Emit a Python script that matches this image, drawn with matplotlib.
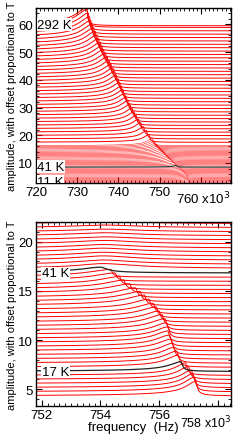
import numpy as np
import matplotlib.pyplot as plt
from matplotlib.ticker import MultipleLocator

plt.rcParams['font.family'] = ['Liberation Sans', 'DejaVu Sans']
plt.rcParams['font.size'] = 9.5

# ---- top panel: 11 K .. 292 K, offset = 0.203*T + 0.18 ----
T_top = [11, 13, 15, 17, 19, 21, 23, 25, 27, 29, 31, 33, 35, 37, 39,
         41,
         43, 45, 47, 49, 51, 53, 55, 57, 59, 61, 63, 65, 67, 69, 71, 73, 75, 77, 79,
         85, 91, 97, 103, 109, 115, 121, 127, 133, 139, 145, 151, 157, 163, 169,
         175, 181, 187, 193, 199, 205, 211, 217, 223, 229, 235, 241, 247, 253, 259,
         265, 271, 277, 283, 289, 292]
f0_top = [757.25, 757.15, 757.0, 756.75, 756.6, 756.45, 756.35, 756.3, 756.2, 756.0,
          755.8, 755.5, 755.2, 754.8, 754.5,
          754.0,
          753.7, 753.4, 753.0, 752.7, 752.4, 752.1, 751.8, 751.4, 751.1, 750.8,
          750.5, 750.2, 749.9, 749.6, 749.3, 749.0, 748.7, 748.4, 748.1,
          747.4, 746.8, 746.1, 745.4, 744.9, 744.3, 743.8, 743.3, 742.8, 742.3,
          741.9, 741.5, 741.1, 740.7, 740.3, 739.9, 739.5, 739.1, 738.7, 738.2,
          737.8, 737.3, 736.9, 736.4, 736.0, 735.6, 735.2, 734.8, 734.4, 734.0,
          733.6, 733.3, 733.0, 732.7, 732.4, 732.3]
h_top = [0.5] * 15 + [0.6] + \
        [0.8, 0.9, 1.0, 1.1, 1.2, 1.3, 1.4, 1.5, 1.6, 1.7, 1.8, 1.9, 2.0, 2.1,
         2.2, 2.3, 2.4, 2.5, 2.6] + \
        [2.8, 3.0, 3.2, 3.4, 3.5, 3.6, 3.7, 3.8, 3.9, 4.0, 4.1, 4.2, 4.3, 4.4,
         4.5, 4.6, 4.7, 4.8, 4.9, 5.0, 5.1, 5.2, 5.3, 5.4, 5.5, 5.6, 5.7, 5.8,
         5.9, 6.0, 6.1, 6.2, 6.3, 6.4, 6.5, 6.6]
w_top = [0.4] * 15 + [0.5] + \
        [0.6, 0.6, 0.65, 0.65, 0.7, 0.7, 0.75, 0.75, 0.8, 0.8, 0.85, 0.85, 0.9,
         0.9, 0.95, 0.95, 1.0, 1.0, 1.0] + \
        [1.1, 1.1, 1.2, 1.2, 1.3, 1.3, 1.4, 1.4, 1.5, 1.5, 1.5, 1.6, 1.6, 1.6,
         1.7, 1.7, 1.7, 1.8, 1.8, 1.8, 1.9, 1.9, 1.9, 2.0, 2.0, 2.0, 2.0, 2.1,
         2.1, 2.1, 2.1, 2.2, 2.2, 2.2, 2.2, 2.2]

# ---- bottom panel: 11 K .. 53 K, offset = 0.417*T - 0.29 ----
T_bot = list(range(11, 54))
f0_bot = [757.25, 757.2, 757.15, 757.1, 757.0, 756.9, 756.75, 756.65, 756.6, 756.5,
          756.45, 756.4, 756.35, 756.3, 756.3, 756.25, 756.2, 756.1, 756.0, 755.9,
          755.8, 755.65, 755.5, 755.35, 755.2, 755.0, 754.8, 754.65, 754.5, 754.35,
          754.0,
          754.1, 754.1, 754.1, 754.1, 754.1, 754.1, 754.15, 754.15, 754.15, 754.2,
          754.2, 754.2]
h_bot = [1.5, 1.5, 1.45, 1.4, 1.35, 1.3, 1.0, 1.25, 1.25, 1.2, 1.2, 1.2, 1.2,
         1.2, 1.2, 1.2, 1.2, 1.2, 1.15, 1.15, 1.1, 1.1, 1.1, 1.05, 1.0, 1.0,
         0.95, 0.9, 0.85, 0.8,
         0.6,
         0.55, 0.5, 0.5, 0.45, 0.45, 0.4, 0.4, 0.35, 0.35, 0.3, 0.3, 0.25]
wl_bot = [0.3, 0.3, 0.3, 0.3, 0.3, 0.3, 0.35, 0.35, 0.35, 0.35, 0.35, 0.4, 0.4,
          0.4, 0.4, 0.4, 0.45, 0.45, 0.45, 0.5, 0.5, 0.5, 0.55, 0.55, 0.55, 0.6,
          0.6, 0.6, 0.65, 0.65,
          0.6,
          0.8, 0.8, 0.85, 0.85, 0.9, 0.9, 0.95, 0.95, 1.0, 1.0, 1.0, 1.0]
wr_bot = [0.04] * 30 + [0.2] + [0.9] * 12

black_top = [41]
black_bot = [41, 17]


def resonance(f, f0, h, wl, wr):
    d = f - f0
    w = np.where(d < 0, wl, wr)
    return h / np.sqrt(1 + (d / w) ** 2)


fig = plt.figure(figsize=(2.53, 4.39), dpi=100)
ax1 = fig.add_axes([0.142, 0.581, 0.771, 0.398])
ax2 = fig.add_axes([0.142, 0.073, 0.771, 0.419])

f = np.linspace(719, 769, 4000)
for T, f0, h, w in zip(T_top, f0_top, h_top, w_top):
    y = 0.203 * T + 0.18 + resonance(f, f0, h, w, 0.15)
    if T in black_top:
        ax1.plot(f, y, color='#333333', lw=0.9, zorder=4)
    elif T < 80:
        ax1.plot(f, y, color='red', lw=0.35, zorder=2)
    else:
        ax1.plot(f, y, color='red', lw=0.7, zorder=2)

fb = np.linspace(751, 759, 4000)
for T, f0, h, wl, wr in zip(T_bot, f0_bot, h_bot, wl_bot, wr_bot):
    y = 0.417 * T - 0.29 + resonance(fb, f0, h, wl, wr)
    if T in black_bot:
        ax2.plot(fb, y, color='#222222', lw=0.9, zorder=4)
    else:
        ax2.plot(fb, y, color='red', lw=0.7, zorder=2)

box = dict(facecolor='white', edgecolor='none', pad=0.3)
ax1.text(720.3, 59.9, '292 K', va='center', ha='left', bbox=box, zorder=5)
ax1.text(720.3, 8.6, '41 K', va='center', ha='left', bbox=box, zorder=5)
ax1.text(720.3, 3.2, '11 K', va='center', ha='left', bbox=box, zorder=5, clip_on=True)
ax2.text(752.0, 16.8, '41 K', va='center', ha='left', bbox=box, zorder=5)
ax2.text(752.0, 6.8, '17 K', va='center', ha='left', bbox=box, zorder=5)

ax1.set_xlim(720, 767.3)
ax1.set_ylim(2.8, 65.8)
ax1.set_xticks([720, 730, 740, 750, 760])
ax1.set_xticklabels(['720', '730', '740', '750', ''])
ax1.text(0.86, -0.04, '760 x10$^3$', transform=ax1.transAxes, ha='center', va='top')
ax1.set_yticks([10, 20, 30, 40, 50, 60])
ax1.xaxis.set_minor_locator(MultipleLocator(1))
ax1.yaxis.set_minor_locator(MultipleLocator(2))

ax2.set_xlim(751.8, 758.45)
ax2.set_ylim(3.3, 22.0)
ax2.set_xticks([752, 754, 756, 758])
ax2.set_xticklabels(['752', '754', '756', ''])
ax2.text(1.0, -0.04, '758 x10$^3$', transform=ax2.transAxes, ha='right', va='top',
         fontsize=9)
ax2.set_yticks([5, 10, 15, 20])
ax2.xaxis.set_minor_locator(MultipleLocator(0.2))
ax2.yaxis.set_minor_locator(MultipleLocator(1))
ax2.set_xlabel('frequency  (Hz)', labelpad=0)

for ax in (ax1, ax2):
    ax.tick_params(which='both', direction='in', top=True, right=True, pad=2)
    ax.tick_params(which='major', length=4, width=0.8)
    ax.tick_params(which='minor', length=2, width=0.6)
    ax.set_ylabel('amplitude, with offset proportional to T', fontsize=8, labelpad=1)
    for s in ax.spines.values():
        s.set_linewidth(1.0)

fig.savefig('out.png', dpi=100)
